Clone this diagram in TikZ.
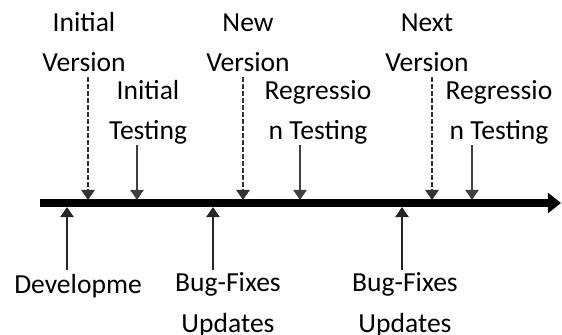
\documentclass[tikz,border=0pt]{standalone}
\usepackage{fontspec}
\setmainfont{Carlito}
\usetikzlibrary{arrows.meta}

\tikzset{
	lbl/.style={inner sep=0pt, anchor=base, align=center,
		font=\fontsize{19.6pt}{28.45pt}\selectfont},
	timeline/.style={line width=5pt, -{Triangle[width=0.5cm,length=0.33cm]}},
	verarrow/.style={black!80, line width=1.4pt, dash pattern=on 3.4pt off 1.6pt,
		-{Triangle[width=0.33cm,length=0.25cm]}},
	testarrow/.style={black!75, line width=1pt, -{Triangle[width=0.33cm,length=0.25cm]}},
	fixarrow/.style={black!85, line width=1pt, -{Triangle[width=0.33cm,length=0.25cm]}}
}

\begin{document}
\begin{tikzpicture}[x=0.025cm,y=-0.025cm]

	\useasboundingbox (0,0) rectangle (562,335);

	% time line
	\coordinate (tlstart) at (40,203);
	\coordinate (tlend) at (561,203);
	\draw[timeline] (tlstart) -- (tlend);

	% versions (base = last line)
	\node[lbl] (iv) at (84,72) {Initial\\Version};
	\node[lbl] (nv) at (248,72) {New\\Version};
	\node[lbl] (xv) at (427,72) {Next\\Version};
	\coordinate (ivtop) at (88,77);
	\coordinate (nvtop) at (243,77);
	\coordinate (xvtop) at (432,77);
	\coordinate (ivbot) at (88,200);
	\coordinate (nvbot) at (243,200);
	\coordinate (xvbot) at (432,200);
	\draw[verarrow] (ivtop) -- (ivbot);
	\draw[verarrow] (nvtop) -- (nvbot);
	\draw[verarrow] (xvtop) -- (xvbot);

	% testing
	\node[lbl] (it) at (148,140) {Initial\\Testing};
	\node[lbl] (rt) at (318,140) {Regressio\\n Testing};
	\node[lbl] (rtb) at (499,140) {Regressio\\n Testing};
	\coordinate (ittop) at (137,145);
	\coordinate (rttop) at (300,145);
	\coordinate (rtbtop) at (472,145);
	\coordinate (itbot) at (137,200);
	\coordinate (rtbot) at (300,200);
	\coordinate (rtbbot) at (472,200);
	\draw[testarrow] (ittop) -- (itbot);
	\draw[testarrow] (rttop) -- (rtbot);
	\draw[testarrow] (rtbtop) -- (rtbbot);

	% development and fixes
	\node[lbl] (dev) at (78,293) {Developme};
	\node[lbl] (bf) at (228,332) {Bug-Fixes\\Updates};
	\node[lbl] (bfb) at (405,332) {Bug-Fixes\\Updates};
	\coordinate (devlow) at (67,270);
	\coordinate (bflow) at (213,270);
	\coordinate (bfblow) at (402,270);
	\coordinate (devup) at (67,207);
	\coordinate (bfup) at (213,207);
	\coordinate (bfbup) at (402,207);
	\draw[fixarrow] (devlow) -- (devup);
	\draw[fixarrow] (bflow) -- (bfup);
	\draw[fixarrow] (bfblow) -- (bfbup);

\end{tikzpicture}
\end{document}
